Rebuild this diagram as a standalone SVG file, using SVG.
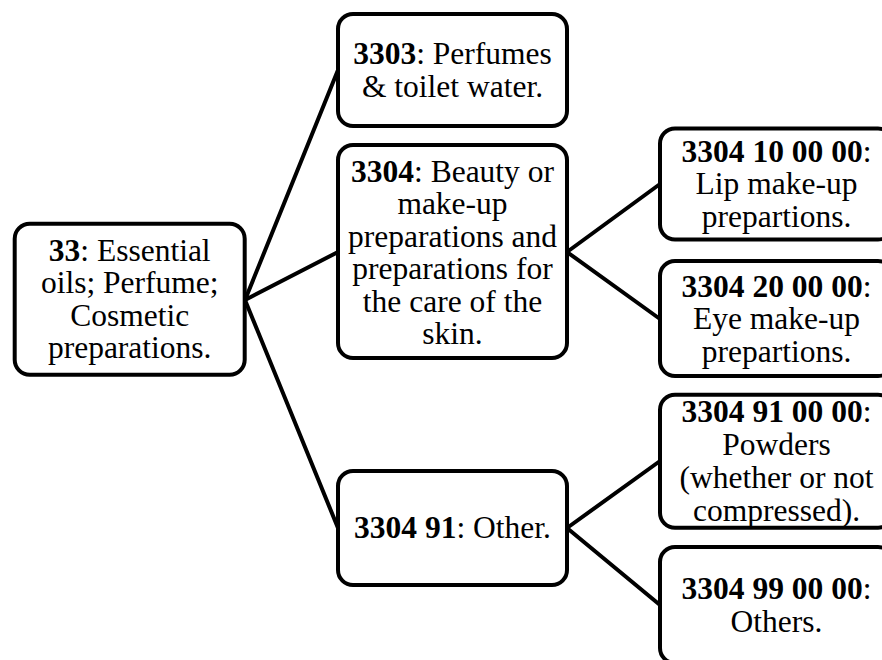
<svg xmlns="http://www.w3.org/2000/svg" width="882" height="660" viewBox="0 0 882 660">
<style>
.box{fill:#fff;stroke:#000;stroke-width:4}
.t{font-family:'Liberation Serif','Times New Roman',serif;font-size:31.5px;fill:#000;text-anchor:middle}
.b{font-weight:bold}
.c{stroke:#000;stroke-width:4;fill:none;stroke-linecap:round}
</style>
<rect width="882" height="660" fill="#fff"/>
<g id="connectors">
<line class="c" x1="245" y1="300" x2="338" y2="70"/>
<line class="c" x1="245" y1="300" x2="338" y2="252"/>
<line class="c" x1="245" y1="300" x2="338" y2="528"/>
<line class="c" x1="567" y1="252" x2="660" y2="184"/>
<line class="c" x1="567" y1="252" x2="660" y2="319"/>
<line class="c" x1="567" y1="528" x2="660" y2="461"/>
<line class="c" x1="567" y1="528" x2="660" y2="605"/>
</g>
<g id="n33">
<rect class="box" x="14.7" y="223.7" width="230" height="151" rx="15"/>
<text class="t" x="129.7" y="260.5"><tspan class="b">33</tspan>: Essential</text>
<text class="t" x="129.7" y="293">oils; Perfume;</text>
<text class="t" x="129.7" y="325.5">Cosmetic</text>
<text class="t" x="129.7" y="358">preparations.</text>
</g>
<g id="n3303">
<rect class="box" x="338" y="14" width="229" height="112" rx="15"/>
<text class="t" x="452.5" y="64"><tspan class="b">3303</tspan>: Perfumes</text>
<text class="t" x="452.5" y="97">&amp; toilet water.</text>
</g>
<g id="n3304">
<rect class="box" x="338" y="145" width="229" height="213" rx="15"/>
<text class="t" x="452.5" y="181.5"><tspan class="b">3304</tspan>: Beauty or</text>
<text class="t" x="452.5" y="214">make-up</text>
<text class="t" x="452.5" y="246.5">preparations and</text>
<text class="t" x="452.5" y="279">preparations for</text>
<text class="t" x="452.5" y="311.5">the care of the</text>
<text class="t" x="452.5" y="344">skin.</text>
</g>
<g id="n330491">
<rect class="box" x="338" y="471" width="229" height="114" rx="15"/>
<text class="t" x="452.5" y="538"><tspan class="b">3304 91</tspan>: Other.</text>
</g>
<g id="n3304100000">
<rect class="box" x="660" y="128.5" width="233" height="111" rx="15"/>
<text class="t" x="776.5" y="161.5"><tspan class="b">3304 10 00 00</tspan>:</text>
<text class="t" x="776.5" y="194">Lip make-up</text>
<text class="t" x="776.5" y="226.5">prepartions.</text>
</g>
<g id="n3304200000">
<rect class="box" x="660" y="261" width="233" height="115" rx="15"/>
<text class="t" x="776.5" y="296.5"><tspan class="b">3304 20 00 00</tspan>:</text>
<text class="t" x="776.5" y="329">Eye make-up</text>
<text class="t" x="776.5" y="361.5">prepartions.</text>
</g>
<g id="n3304910000">
<rect class="box" x="660" y="394.7" width="233" height="133" rx="15"/>
<text class="t" x="776.5" y="422"><tspan class="b">3304 91 00 00</tspan>:</text>
<text class="t" x="776.5" y="455">Powders</text>
<text class="t" x="776.5" y="488">(whether or not</text>
<text class="t" x="776.5" y="520.5">compressed).</text>
</g>
<g id="n3304990000">
<rect class="box" x="660" y="547" width="233" height="116" rx="15"/>
<text class="t" x="776.5" y="599"><tspan class="b">3304 99 00 00</tspan>:</text>
<text class="t" x="776.5" y="631.5">Others.</text>
</g>
</svg>
